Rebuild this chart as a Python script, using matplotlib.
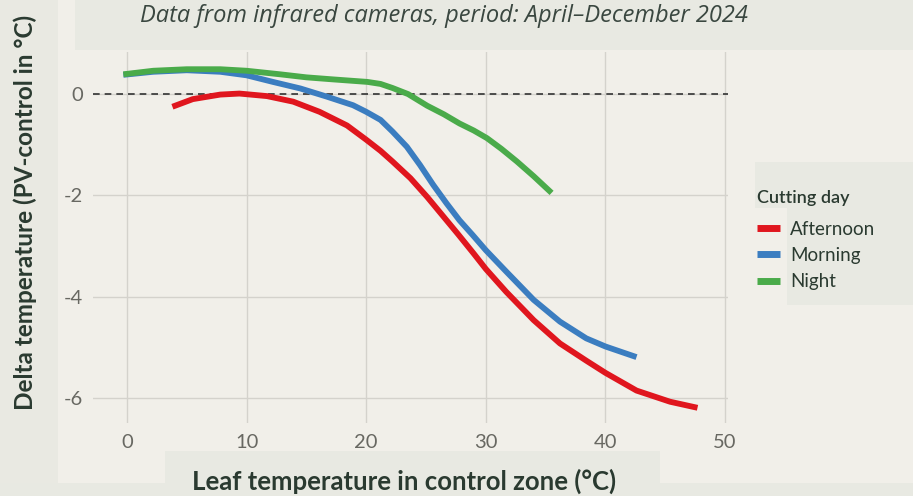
import matplotlib
matplotlib.use("Agg")
import matplotlib.pyplot as plt
from matplotlib.patches import Rectangle

plt.rcParams['font.family'] = ['Lato', 'DejaVu Sans']

# ---- data ----
afternoon_x = [3.8, 5.5, 7.8, 9.4, 11.7, 13.9, 16.1, 18.4, 20, 21.2, 22.2, 23.7, 25.1, 26.4, 27.7,
               29, 30, 31.7, 34, 36.2, 38.4, 40, 42.6, 45.4, 47.7]
afternoon_y = [-0.25, -0.1, -0.01, 0.01, -0.04, -0.15, -0.35, -0.62, -0.9, -1.12, -1.33, -1.66, -2.03,
               -2.4, -2.77, -3.15, -3.45, -3.9, -4.46, -4.92, -5.26, -5.5, -5.85, -6.07, -6.19]
morning_x = [-0.3, 2.2, 5, 7.8, 10, 12.2, 14.5, 16.7, 18.9, 20, 21.2, 22.2, 23.4, 24.5, 25.6, 26.7,
             27.8, 28.9, 30, 31.7, 34, 36.2, 38.4, 40, 42.6]
morning_y = [0.38, 0.44, 0.47, 0.44, 0.37, 0.24, 0.11, -0.05, -0.22, -0.35, -0.51, -0.74, -1.04, -1.4,
             -1.79, -2.15, -2.49, -2.78, -3.08, -3.5, -4.06, -4.49, -4.82, -4.98, -5.19]
night_x = [-0.3, 2.2, 5, 7.8, 10, 12.8, 15, 17.2, 20.1, 21.2, 22.2, 23.5, 25.1, 26.5, 27.8, 29,
           30.1, 31.3, 32.6, 34, 35.5]
night_y = [0.39, 0.46, 0.49, 0.49, 0.46, 0.39, 0.33, 0.29, 0.24, 0.2, 0.12, 0.0, -0.23, -0.4, -0.58,
           -0.72, -0.87, -1.08, -1.33, -1.62, -1.95]
series_names = ["Afternoon", "Morning", "Night"]
series_colors = ["#e0161e", "#3b7dc0", "#4aab4a"]
x_ticks = [0, 10, 20, 30, 40, 50]
y_ticks = [0, -2, -4, -6]

W, H = 913, 496
fig = plt.figure(figsize=(W / 100, H / 100), dpi=100)
fig.patch.set_facecolor("#f1efe9")

def band(x0, y0, x1, y1, color="#e8e9e2"):
    fig.add_artist(Rectangle((x0 / W, 1 - y1 / H), (x1 - x0) / W, (y1 - y0) / H,
                             transform=fig.transFigure, facecolor=color, edgecolor="none", zorder=0))

band(0, 0, 58, H, "#e9e9e2")
band(75, 0, W, 50)
band(0, 483, W, H)
band(165, 451, 660, H)
band(755, 162, W, 208)
band(787, 208, W, 305)

ax = fig.add_axes([93 / W, 1 - 423 / H, (728 - 93) / W, (423 - 52) / H])
ax.set_facecolor("none")
ax.set_xlim(-2.84, 50.25)
ax.set_ylim(-6.49, 0.83)
for s in ax.spines.values():
    s.set_visible(False)
ax.set_xticks(x_ticks)
ax.set_yticks(y_ticks)
ax.set_xticklabels([str(t) for t in x_ticks])
ax.set_yticklabels([str(t) for t in y_ticks])
ax.tick_params(length=0, colors="#686862", labelsize=14.5)
ax.tick_params(axis="x", pad=8)
ax.tick_params(axis="y", pad=7)
ax.grid(True, color="#d4d2cc", linewidth=1.0)
ax.set_axisbelow(True)

ax.axhline(0, color="#333333", linewidth=1.2, linestyle=(0, (4, 3)), zorder=2)

for xs, ys, name, c in [(afternoon_x, afternoon_y, series_names[0], series_colors[0]),
                        (morning_x, morning_y, series_names[1], series_colors[1]),
                        (night_x, night_y, series_names[2], series_colors[2])]:
    ax.plot(xs, ys, color=c, linewidth=4.2, label=name, solid_capstyle="butt",
            solid_joinstyle="round", zorder=3)

fig.text(444 / W, 1 - 22 / H, "Data from infrared cameras, period: April\u2013December 2024",
         ha="center", va="baseline", fontsize=17, style="italic", color="#3a4740",
         family=["Open Sans", "DejaVu Sans"])
fig.text(25 / W, 1 - 212 / H, "Delta temperature (PV-control in \u00b0C)", rotation=90,
         ha="center", va="center", fontsize=17.5, fontweight="bold", color="#2a3a30")
fig.text(404 / W, 1 - 490 / H, "Leaf temperature in control zone (\u00b0C)",
         ha="center", va="baseline", fontsize=18.5, fontweight="bold", color="#2a3a30")

leg = fig.legend(loc="upper left", bbox_to_anchor=(757 / W, 1 - 190 / H), frameon=False,
                 title="Cutting day", fontsize=13.5, title_fontsize=13, handlelength=1.25,
                 handletextpad=0.5, labelspacing=0.5, alignment="left", borderpad=0,
                 borderaxespad=0)
leg.get_title().set_color("#2a3a30")
leg.get_title().set_fontweight("semibold")
leg._legend_box.sep = 10.5
for t in leg.get_texts():
    t.set_color("#2a3a30")
for h in leg.legend_handles:
    h.set_linewidth(5)

fig.savefig("out.png", dpi=100, facecolor=fig.get_facecolor())
